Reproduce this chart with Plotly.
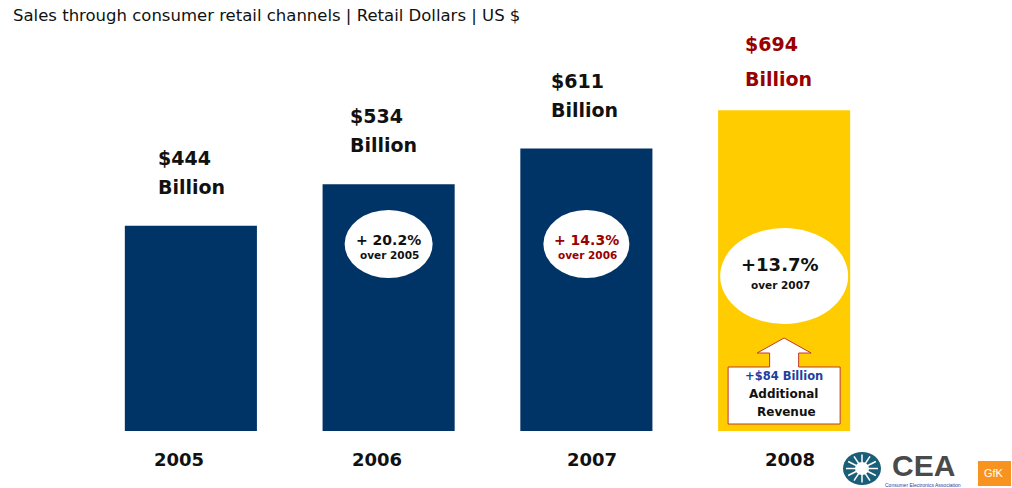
import math
import plotly.graph_objects as go

years = ["2005", "2006", "2007", "2008"]
sales = [444, 534, 611, 694]
value_labels = ["$444", "$534", "$611", "$694"]
growth = ["+ 20.2%", "+ 14.3%", "+13.7%"]
growth_sub = ["over 2005", "over 2006", "over 2007"]
added = "+$84 Billion"
title = "Sales through consumer retail channels | Retail Dollars | US $"

NAVY = "#003366"
GOLD = "#FFCC00"
DARKRED = "#990000"
FONT = "DejaVu Sans, Verdana, sans-serif"

W, H = 1012, 488
ML, MR, MT, MB = 92, 129, 15, 57
PW, PH = W - ML - MR, H - MT - MB
YMAX = 900
PXX = PW / 4.0        # px per category
PXY = PH / YMAX       # px per $B

# pixel nudges of labels relative to their bar centre (layout only)
VAL_DX = [-35, -41, -37, -41]
YEAR_DX = [-12, -12, 6, 6]
GROW_DX = [1, 1, -4]


def yd(py):
    return (H - MB - py) / PXY


def xp(px):
    return (px - ML) / PW


def yp(py):
    return (H - MB - py) / PH


colors = [NAVY, NAVY, NAVY, GOLD]
fig = go.Figure(go.Bar(x=list(range(4)), y=sales, width=0.668,
                       marker=dict(color=colors, line=dict(width=0)),
                       hoverinfo="skip"))

ann = []
shapes = []

# title
ann.append(dict(text=title, xref="paper", yref="paper", x=xp(11), y=yp(15),
                xanchor="left", yanchor="middle", showarrow=False,
                font=dict(family=FONT, size=16.5, color="#111111")))

# value labels and year labels
for i, (v, lab) in enumerate(zip(sales, value_labels)):
    c = DARKRED if i == 3 else "#111111"
    s1, s2 = (66, 31) if i == 3 else (68, 39)
    ann.append(dict(text="<b>%s</b>" % lab, x=i + VAL_DX[i] / PXX, y=v, xanchor="left",
                    yanchor="middle", yshift=s1, showarrow=False,
                    font=dict(family=FONT, size=19, color=c)))
    ann.append(dict(text="<b>Billion</b>", x=i + VAL_DX[i] / PXX, y=v, xanchor="left",
                    yanchor="middle", yshift=s2, showarrow=False,
                    font=dict(family=FONT, size=19, color=c)))
    ann.append(dict(text="<b>%s</b>" % years[i], x=i + YEAR_DX[i] / PXX, y=0,
                    xanchor="center", yanchor="middle", yshift=-28, showarrow=False,
                    font=dict(family=FONT, size=18, color="#111111")))

# growth ellipses
ell = [(44, 244, 34), (43, 244, 34), (64, 276, 48)]
txt_y = [(240, 255), (240, 255), (264, 285)]
sizes = [(14, 10.5), (14, 10.5), (18, 10.5)]
tcol = ["#111111", DARKRED, "#111111"]
for k in range(3):
    i = k + 1
    hw, cy, hh = ell[k]
    shapes.append(dict(type="circle", xref="x", yref="y",
                       x0=i - hw / PXX, x1=i + hw / PXX,
                       y0=yd(cy + hh), y1=yd(cy - hh),
                       fillcolor="white", line=dict(width=0), layer="above"))
    ann.append(dict(text="<b>%s</b>" % growth[k], x=i + (GROW_DX[k] if k == 2 else 0) / PXX,
                    y=yd(txt_y[k][0]), xanchor="center", yanchor="middle", showarrow=False,
                    font=dict(family=FONT, size=sizes[k][0], color=tcol[k])))
    ann.append(dict(text="<b>%s</b>" % growth_sub[k], x=i + GROW_DX[k] / PXX,
                    y=yd(txt_y[k][1]), xanchor="center", yanchor="middle", showarrow=False,
                    font=dict(family=FONT, size=sizes[k][1], color=tcol[k])))

# arrow callout on 2008 bar
pts = [(0, 338), (27, 353), (14.5, 353), (14.5, 367), (56, 367), (56, 424),
       (-56, 424), (-56, 367), (-14.5, 367), (-14.5, 353), (-27, 353)]
path = "M " + " L ".join("%f,%f" % (3 + dx / PXX, yd(py)) for dx, py in pts) + " Z"
shapes.append(dict(type="path", xref="x", yref="y", path=path, fillcolor="white",
                   line=dict(color="#C0392B", width=1), layer="above"))
ann.append(dict(text="<b>%s</b>" % added, x=3, y=yd(376), xanchor="center",
                yanchor="middle", showarrow=False,
                font=dict(family=FONT, size=11.5, color="#1F3F9F")))
ann.append(dict(text="<b>Additional</b>", x=3 - 1 / PXX, y=yd(394), xanchor="center",
                yanchor="middle", showarrow=False,
                font=dict(family=FONT, size=12, color="#111111")))
ann.append(dict(text="<b>Revenue</b>", x=3 + 2 / PXX, y=yd(412), xanchor="center",
                yanchor="middle", showarrow=False,
                font=dict(family=FONT, size=12, color="#111111")))

# logos (decorative)
shapes.append(dict(type="circle", xref="paper", yref="paper",
                   x0=xp(843), x1=xp(881), y0=yp(485), y1=yp(452),
                   fillcolor="#1B5E78", line=dict(width=0)))
shapes.append(dict(type="circle", xref="paper", yref="paper",
                   x0=xp(855), x1=xp(869), y0=yp(475), y1=yp(462),
                   fillcolor="white", line=dict(width=0)))
for a in range(0, 360, 30):
    r = math.radians(a)
    shapes.append(dict(type="line", xref="paper", yref="paper",
                       x0=xp(862), y0=yp(468.5),
                       x1=xp(862 + 16 * math.cos(r)), y1=yp(468.5 + 14 * math.sin(r)),
                       line=dict(color="white", width=1.5)))
ann.append(dict(text="<b>CEA</b>", xref="paper", yref="paper", x=xp(923), y=yp(465),
                xanchor="center", yanchor="middle", showarrow=False,
                font=dict(family="Liberation Sans, Arial", size=30, color="#4A4A4A")))
ann.append(dict(text="Consumer Electronics Association", xref="paper", yref="paper",
                x=xp(923), y=yp(485), xanchor="center", yanchor="middle", showarrow=False,
                font=dict(family="Liberation Sans, Arial", size=5, color="#1F3F9F")))
shapes.append(dict(type="rect", xref="paper", yref="paper",
                   x0=xp(978), x1=xp(1011), y0=yp(486), y1=yp(461),
                   fillcolor="#F7931E", line=dict(width=0)))
ann.append(dict(text="GfK", xref="paper", yref="paper", x=xp(994.5), y=yp(473),
                xanchor="center", yanchor="middle", showarrow=False,
                font=dict(family="Liberation Sans, Arial", size=11, color="white")))

fig.update_layout(
    width=W, height=H, margin=dict(l=ML, r=MR, t=MT, b=MB),
    paper_bgcolor="white", plot_bgcolor="white", showlegend=False,
    xaxis=dict(range=[-0.5, 3.5], visible=False, fixedrange=True),
    yaxis=dict(range=[0, YMAX], visible=False, fixedrange=True),
    annotations=ann, shapes=shapes,
)
fig.write_html("out.html", config={"displayModeBar": False})
